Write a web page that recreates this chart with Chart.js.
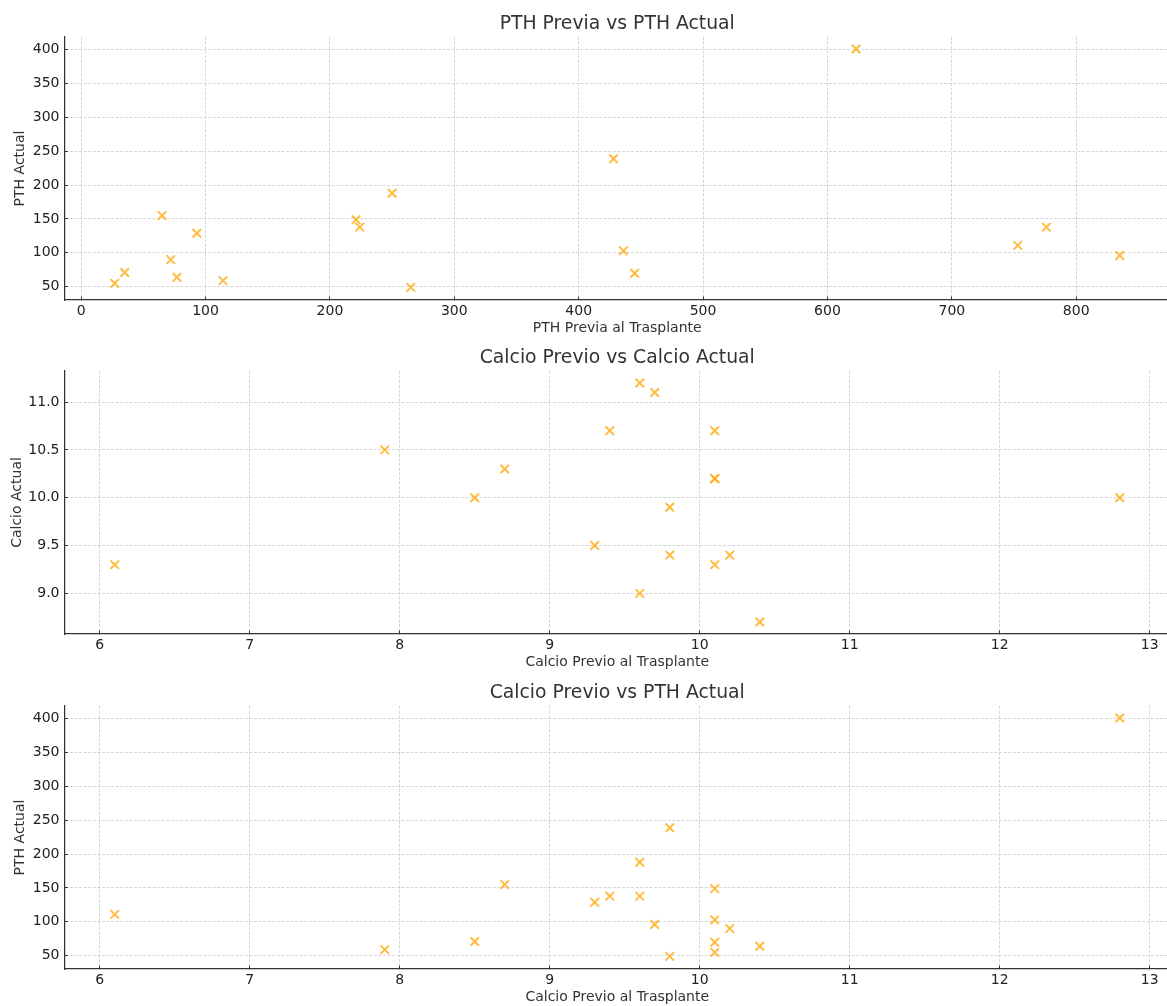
<!DOCTYPE html>
<html>
<head>
<meta charset="utf-8">
<script src="https://cdn.jsdelivr.net/npm/chart.js@4.4.0/dist/chart.umd.min.js"></script>
<style>
html, body { margin: 0; padding: 0; background: #fff; width: 1167px; height: 1006px; overflow: hidden; position: relative; }
canvas { position: absolute; left: 0; }
</style>
</head>
<body>
<canvas id="c1" width="1170" height="337" style="top:0px"></canvas>
<canvas id="c2" width="1170" height="337" style="top:334px"></canvas>
<canvas id="c3" width="1170" height="337" style="top:669px"></canvas>
<script>
// ---- Data ----
// Chart 1: PTH Previa vs PTH Actual
const pthPrevia  = [27, 35, 65, 72, 77, 93, 114, 221, 224, 250, 265, 428, 436, 445, 623, 753, 776, 835];
const pthActual1 = [55, 71, 155, 90, 64, 129, 59, 149, 138, 188, 49, 239, 103, 70, 401, 111, 138, 96];

// Chart 2: Calcio Previo vs Calcio Actual
const calcioPrevio2 = [6.1, 7.9, 8.5, 8.7, 9.3, 9.4, 9.6, 9.7, 9.8, 9.8, 9.6, 10.1, 10.1, 10.1, 10.1, 10.2, 10.4, 12.8];
const calcioActual2 = [9.3, 10.5, 10.0, 10.3, 9.5, 10.7, 11.2, 11.1, 9.9, 9.4, 9.0, 10.7, 10.2, 10.2, 9.3, 9.4, 8.7, 10.0];

// Chart 3: Calcio Previo vs PTH Actual
const calcioPrevio3 = [6.1, 7.9, 8.5, 8.7, 9.3, 9.4, 9.6, 9.6, 9.7, 9.8, 9.8, 10.1, 10.1, 10.1, 10.1, 10.2, 10.4, 12.8];
const pthActual3    = [111, 59, 71, 155, 129, 138, 188, 138, 96, 239, 49, 149, 103, 70, 55, 90, 64, 401];

// Tick values / labels
const pthPreviaTicks  = [0, 100, 200, 300, 400, 500, 600, 700, 800];
const pthPreviaLabels = ['0', '100', '200', '300', '400', '500', '600', '700', '800'];
const pthActualTicks  = [50, 100, 150, 200, 250, 300, 350, 400];
const pthActualLabels = ['50', '100', '150', '200', '250', '300', '350', '400'];
const calcioPrevioTicks  = [6, 7, 8, 9, 10, 11, 12, 13];
const calcioPrevioLabels = ['6', '7', '8', '9', '10', '11', '12', '13'];
const calcioActualTicks  = [9.0, 9.5, 10.0, 10.5, 11.0];
const calcioActualLabels = ['9.0', '9.5', '10.0', '10.5', '11.0'];

// ---- Rendering ----
const FONT = "'DejaVu Sans', sans-serif";
const MARKER = 'rgba(255,165,0,0.75)';

function toPoints(xs, ys) { return xs.map((x, i) => ({ x: x, y: ys[i] })); }

function axis(o) {
  return {
    type: 'linear',
    position: o.position,
    min: o.min,
    max: o.max,
    afterBuildTicks: s => { s.ticks = o.ticks.map(v => ({ value: v })); },
    afterFit: s => { if (o.position === 'left') s.width = 64.5; else s.height = 37; },
    ticks: {
      autoSkip: false,
      maxRotation: 0,
      color: '#222',
      font: { family: FONT, size: 14 },
      padding: o.position === 'left' ? 8.5 : 6.2,
      callback: (v, i) => o.labels[i]
    },
    grid: { color: '#cbcbcb', lineWidth: 0.8, tickLength: -3.5, tickColor: '#333', tickWidth: 1 },
    border: { display: true, color: '#333', width: 1.25, dash: [3, 1.6] },
    title: {
      display: true, text: o.title, color: '#333',
      font: { family: FONT, size: 14 },
      padding: o.position === 'left' ? { top: o.titlePad, bottom: 0 } : { top: 0, bottom: 0 }
    }
  };
}

// A top axis carrying only its title: centred over the plot area, like the reference title.
function titleAxis(text) {
  return {
    type: 'linear',
    position: 'top',
    min: 0, max: 1,
    afterFit: s => { s.height = 37; },
    ticks: { display: false },
    grid: { display: false, drawTicks: false },
    border: { display: false },
    title: {
      display: true, text: text, color: '#333',
      font: { family: FONT, size: 18.8, weight: 'normal' },
      padding: { top: 13.2, bottom: 0 }
    }
  };
}

function makeChart(id, o) {
  new Chart(document.getElementById(id), {
    type: 'scatter',
    data: {
      datasets: [{
        data: toPoints(o.xs, o.ys),
        xAxisID: 'x',
        yAxisID: 'y',
        pointStyle: 'crossRot',
        pointRadius: 6,
        pointBorderWidth: 2,
        borderColor: MARKER,
        backgroundColor: MARKER,
        pointBorderColor: MARKER,
        pointBackgroundColor: MARKER
      }]
    },
    options: {
      responsive: false,
      animation: false,
      events: [],
      layout: { padding: 0, autoPadding: false },
      plugins: {
        legend: { display: false },
        tooltip: { enabled: false },
        title: { display: false }
      },
      scales: {
        x: axis({ position: 'bottom', min: o.xMin, max: o.xMax, ticks: o.xTicks, labels: o.xLabels, title: o.xTitle }),
        y: axis({ position: 'left', min: o.yMin, max: o.yMax, ticks: o.yTicks, labels: o.yLabels, title: o.yTitle, titlePad: o.yTitlePad }),
        top: titleAxis(o.title)
      }
    }
  });
}

makeChart('c1', {
  title: 'PTH Previa vs PTH Actual',
  xs: pthPrevia, ys: pthActual1,
  xMin: -13.4, xMax: 875.4, yMin: 30.4, yMax: 418.7,
  xTicks: pthPreviaTicks, xLabels: pthPreviaLabels, xTitle: 'PTH Previa al Trasplante',
  yTicks: pthActualTicks, yLabels: pthActualLabels, yTitle: 'PTH Actual', yTitlePad: 12.0
});

makeChart('c2', {
  title: 'Calcio Previo vs Calcio Actual',
  xs: calcioPrevio2, ys: calcioActual2,
  xMin: 5.765, xMax: 13.135, yMin: 8.575, yMax: 11.325,
  xTicks: calcioPrevioTicks, xLabels: calcioPrevioLabels, xTitle: 'Calcio Previo al Trasplante',
  yTicks: calcioActualTicks, yLabels: calcioActualLabels, yTitle: 'Calcio Actual', yTitlePad: 8.5
});

makeChart('c3', {
  title: 'Calcio Previo vs PTH Actual',
  xs: calcioPrevio3, ys: pthActual3,
  xMin: 5.765, xMax: 13.135, yMin: 30.4, yMax: 418.7,
  xTicks: calcioPrevioTicks, xLabels: calcioPrevioLabels, xTitle: 'Calcio Previo al Trasplante',
  yTicks: pthActualTicks, yLabels: pthActualLabels, yTitle: 'PTH Actual', yTitlePad: 12.0
});
</script>
</body>
</html>
